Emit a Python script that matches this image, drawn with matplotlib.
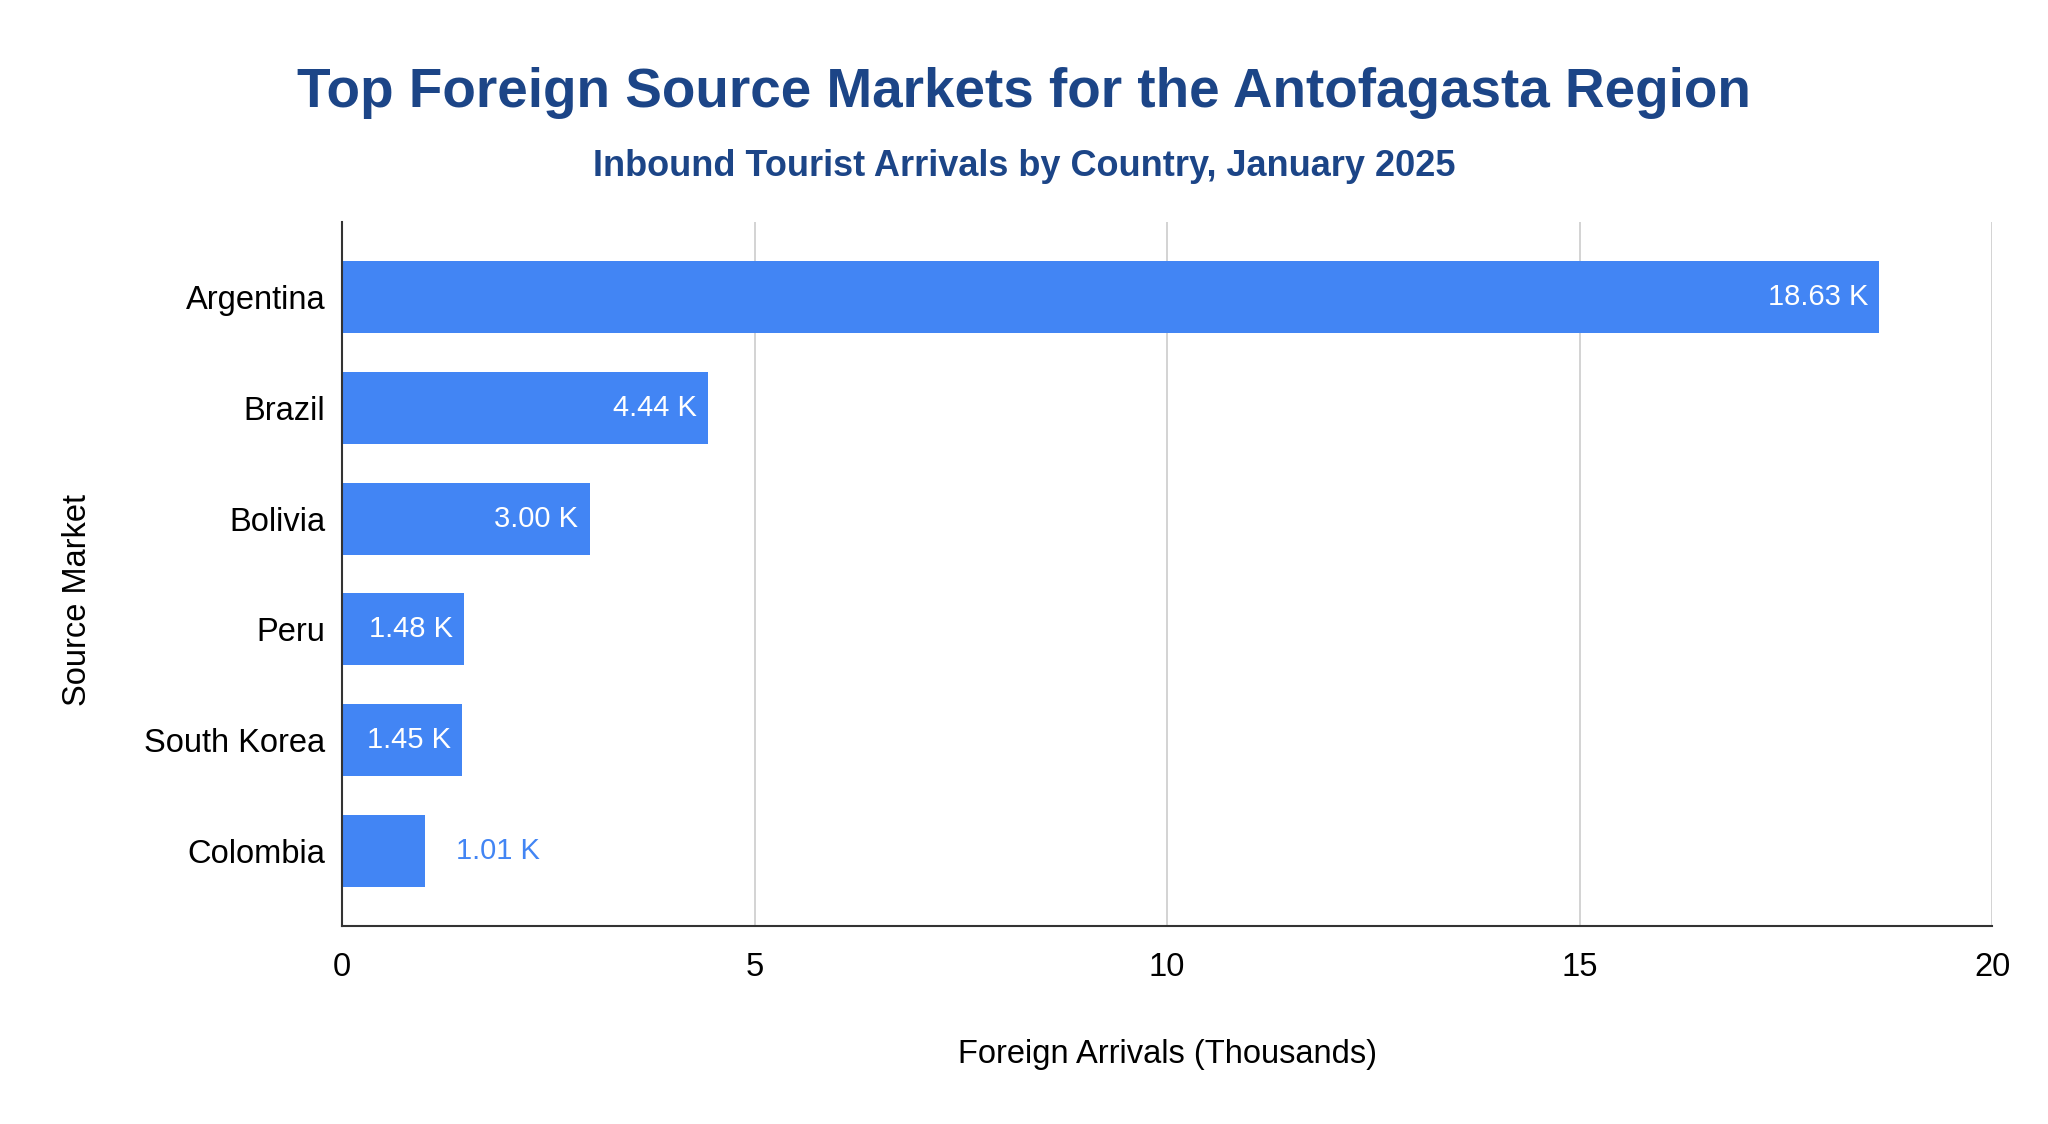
import matplotlib
matplotlib.use("Agg")
import matplotlib.pyplot as plt

countries = ["Argentina", "Brazil", "Bolivia", "Peru", "South Korea", "Colombia"]
arrivals = [18.63, 4.44, 3.00, 1.48, 1.45, 1.01]
labels = ["18.63 K", "4.44 K", "3.00 K", "1.48 K", "1.45 K", "1.01 K"]
xticks = [0, 5, 10, 15, 20]

plt.rcParams['font.family'] = ['Liberation Sans', 'DejaVu Sans']

W, H = 2048, 1124
fig = plt.figure(figsize=(W / 100, H / 100), dpi=100)
left, right, top, bottom = 342, 1992, 222, 926
ax = fig.add_axes([left / W, 1 - bottom / H, (right - left) / W, (bottom - top) / H])

bar_color = "#4285F4"
ypos = list(range(len(countries)))
ax.barh(ypos, arrivals, height=0.65, color=bar_color, zorder=3)

ax.set_xlim(0, 20)
ax.set_ylim(5.677, -0.677)
ax.set_xticks(xticks)
ax.set_xticklabels([str(t) for t in xticks], fontsize=23.5)
ax.set_yticks(ypos)
ax.set_yticklabels(countries, fontsize=23.5)
ax.tick_params(axis='both', length=0)
ax.tick_params(axis='x', pad=19)
ax.tick_params(axis='y', pad=12)
ax.grid(axis='x', color='#cccccc', linewidth=1.2, zorder=0)
for s in ['top', 'right']:
    ax.spines[s].set_visible(False)
for s in ['left', 'bottom']:
    ax.spines[s].set_color('#333333')
    ax.spines[s].set_linewidth(1.5)
    ax.spines[s].set_zorder(4)

for y, v, lab in zip(ypos, arrivals, labels):
    if v > 1.2:
        ax.annotate(lab, xy=(v, y), xytext=(-11, 0), textcoords='offset pixels',
                    ha='right', va='center', color='white', fontsize=21, zorder=5)
    else:
        ax.annotate(lab, xy=(v, y), xytext=(31, 0), textcoords='offset pixels',
                    ha='left', va='center', color=bar_color, fontsize=21, zorder=5)

ax.set_xlabel("Foreign Arrivals (Thousands)", fontsize=23.5, labelpad=40)
ax.set_ylabel("Source Market", fontsize=23.5, labelpad=37)
ax.yaxis.label.set_y(0.463)

title_color = "#1c4587"
fig.text(1024 / W, 1 - 93 / H,
         "Top Foreign Source Markets for the Antofagasta Region",
         ha='center', va='center', fontsize=39.5, fontweight='bold', color=title_color)
fig.text(1024 / W, 1 - 167 / H,
         "Inbound Tourist Arrivals by Country, January 2025",
         ha='center', va='center', fontsize=26, fontweight='bold', color=title_color)

fig.savefig("out.png", dpi=100, facecolor='white')
